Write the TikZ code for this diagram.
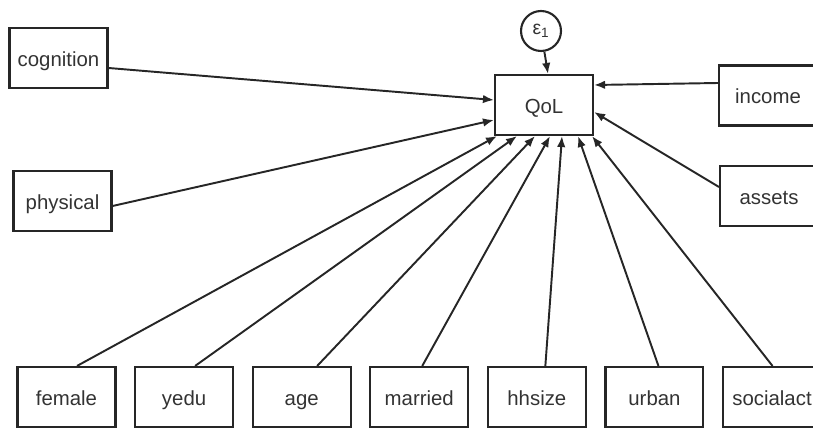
\documentclass[tikz,border=0pt]{standalone}
\usepackage{fontspec}
\setmainfont{Liberation Sans}
\usepackage{tikz}
\usetikzlibrary{arrows.meta, positioning, calc}
\definecolor{LineInk}{HTML}{262626}
\definecolor{TextInk}{HTML}{333333}

\begin{document}
\begin{tikzpicture}[
    x=0.02cm, y=-0.02cm,
    node distance=0.35cm,
    obsvar/.style={rectangle, draw=LineInk, line width=1.2pt, minimum width=1.96cm, minimum height=1.2cm,
                   inner sep=0pt, text centered, text height=11pt, text depth=1.5pt,
                   font=\fontsize{11.6}{13}\selectfont, text=TextInk},
    errvar/.style={circle, draw=LineInk, line width=1.2pt, minimum size=0.8cm, inner sep=0pt,
                   font=\fontsize{11}{12}\selectfont, text=TextInk},
    regpath/.style={-{Latex[length=0.22cm, width=0.17cm]}, draw=LineInk, line width=1.1pt}
]
    \clip (0,0) rectangle (813,428);

    % Outcome and its error term
    \node[obsvar] (qol) at (544,105) {QoL};
    \node[errvar] (eps) at (541,31) {ε\textsubscript{1}};

    % Predictors on the left
    \node[obsvar] (cognition) at (58.5,58) {cognition};
    \node[obsvar] (physical) at (62.5,201) {physical};

    % Predictors on the right
    \node[obsvar] (income) at (768,95.5) {income};
    \node[obsvar] (assets) at (769,196) {assets};

    % Bottom row
    \node[obsvar] (female) at (66.5,397) {female};
    \node[obsvar, right=of female] (yedu) {yedu};
    \node[obsvar, right=of yedu] (age) {age};
    \node[obsvar, right=of age] (married) {married};
    \node[obsvar, right=of married] (hhsize) {hhsize};
    \node[obsvar, right=of hhsize] (urban) {urban};
    \node[obsvar, right=of urban] (socialact) {socialact};

    % Paths into QoL
    \draw[regpath] (eps) -- ($(qol.north)+(4,0)$);
    \draw[regpath] ($(cognition.east)+(0,10)$) -- ($(qol.west)+(0,-5)$);
    \draw[regpath] ($(physical.east)+(0,5)$) -- ($(qol.west)+(0,15)$);
    \draw[regpath] ($(income.west)+(0,-12.5)$) -- ($(qol.east)+(0,-20)$);
    \draw[regpath] ($(assets.west)+(0,-9)$) -- ($(qol.east)+(0,7)$);
    \draw[regpath] ($(female.north)+(10.5,0)$) -- ($(qol.south)+(-47,0)$);
    \draw[regpath] ($(yedu.north)+(11,0)$) -- ($(qol.south)+(-27,0)$);
    \draw[regpath] ($(age.north)+(15.5,0)$) -- ($(qol.south)+(-9,0)$);
    \draw[regpath] ($(married.north)+(3,0)$) -- ($(qol.south)+(6,0)$);
    \draw[regpath] ($(hhsize.north)+(8.5,0)$) -- ($(qol.south)+(18,0)$);
    \draw[regpath] ($(urban.north)+(4,0)$) -- ($(qol.south)+(34,0)$);
    \draw[regpath] ($(socialact.north)+(0.5,0)$) -- ($(qol.south)+(48,0)$);
\end{tikzpicture}
\end{document}
